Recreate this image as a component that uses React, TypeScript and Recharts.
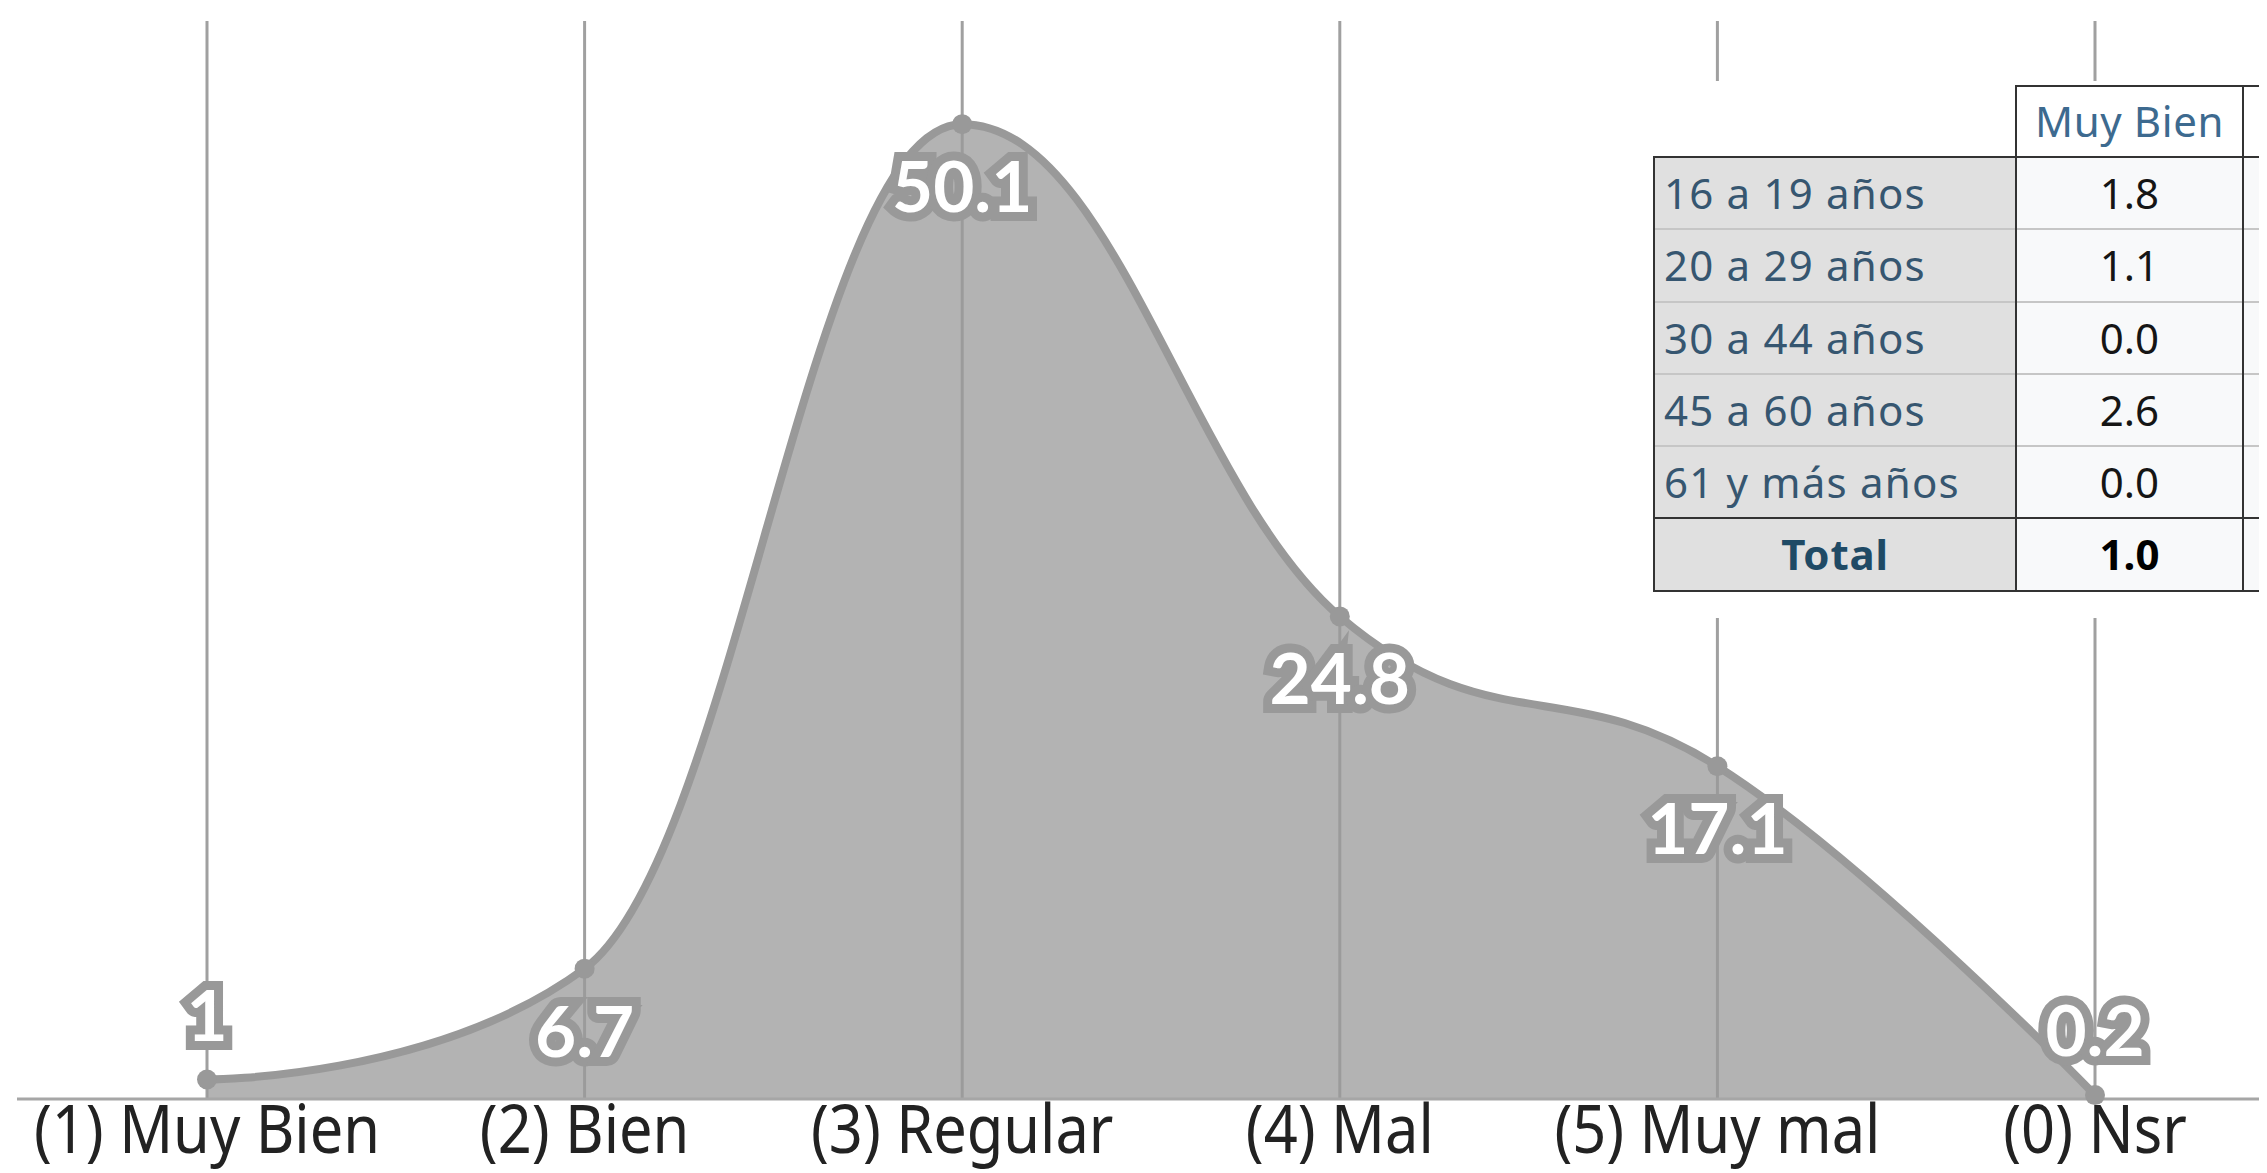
import React from 'react';
import { AreaChart, Area, XAxis, YAxis, CartesianGrid, LabelList } from 'recharts';

// ---------- data ----------
const categories = ['(1) Muy Bien', '(2) Bien', '(3) Regular', '(4) Mal', '(5) Muy mal', '(0) Nsr'];
const percentages = [1, 6.7, 50.1, 24.8, 17.1, 0.2];

const tableHeaders = ['Muy Bien'];
const ageGroups = ['16 a 19 años', '20 a 29 años', '30 a 44 años', '45 a 60 años', '61 y más años'];
const muyBienByAge = [1.8, 1.1, 0.0, 2.6, 0.0];
const totalLabel = 'Total';
const muyBienTotal = 1.0;

const chartData = categories.map((category, i) => ({ category, value: percentages[i] }));

// ---------- layout ----------
const CHART_W = 2277;
const CHART_H = 1165;
const MARGIN = { top: 13, right: 0, bottom: 0, left: 9 };
const X_AXIS_H = 74;
const PLOT_BOTTOM = CHART_H - MARGIN.bottom - X_AXIS_H;
const Y_MAX = 55.4;
const SERIES_COLOR = '#999999';

// ---------- Highcharts-like spline curve ----------
class HCSpline {
  _context: any;
  _line: number;
  _xs: number[];
  _ys: number[];
  constructor(ctx: any) {
    this._context = ctx;
    this._line = NaN;
    this._xs = [];
    this._ys = [];
  }
  areaStart() { this._line = 0; }
  areaEnd() { this._line = NaN; }
  lineStart() { this._xs = []; this._ys = []; }
  point(x: number, y: number) { this._xs.push(+x); this._ys.push(+y); }
  lineEnd() {
    const xs = this._xs, ys = this._ys, n = xs.length, c = this._context;
    if (n > 0) {
      if (this._line) c.lineTo(xs[0], ys[0]); else c.moveTo(xs[0], ys[0]);
      if (n === 2) {
        c.lineTo(xs[1], ys[1]);
      } else if (n > 2) {
        const s = 1.5, d = s + 1;
        const lcx: number[] = [], lcy: number[] = [], rcx: number[] = [], rcy: number[] = [];
        for (let i = 1; i < n - 1; i++) {
          const px = xs[i], py = ys[i], lx = xs[i - 1], ly = ys[i - 1], nx = xs[i + 1], ny = ys[i + 1];
          const lX = (s * px + lx) / d;
          let lY = (s * py + ly) / d;
          const rX = (s * px + nx) / d;
          let rY = (s * py + ny) / d;
          let corr = 0;
          if (rX !== lX) corr = ((rY - lY) * (rX - px)) / (rX - lX) + py - rY;
          lY += corr; rY += corr;
          if (lY > ly && lY > py) { lY = Math.max(ly, py); rY = 2 * py - lY; }
          else if (lY < ly && lY < py) { lY = Math.min(ly, py); rY = 2 * py - lY; }
          if (rY > ny && rY > py) { rY = Math.max(ny, py); lY = 2 * py - rY; }
          else if (rY < ny && rY < py) { rY = Math.min(ny, py); lY = 2 * py - rY; }
          lcx[i] = lX; lcy[i] = lY; rcx[i] = rX; rcy[i] = rY;
        }
        for (let i = 1; i < n; i++) {
          const c1x = i - 1 === 0 ? xs[0] : rcx[i - 1];
          const c1y = i - 1 === 0 ? ys[0] : rcy[i - 1];
          const c2x = i === n - 1 ? xs[n - 1] : lcx[i];
          const c2y = i === n - 1 ? ys[n - 1] : lcy[i];
          c.bezierCurveTo(c1x, c1y, c2x, c2y, xs[i], ys[i]);
        }
      }
    }
    if (this._line || (this._line !== 0 && n === 1)) c.closePath();
    this._line = 1 - this._line;
  }
}
const curveHighcharts = (ctx: any) => new HCSpline(ctx);

// ---------- custom renderers ----------
const CategoryTick = (props: any) => {
  const { x, y, payload } = props;
  return (
    <g transform={`translate(${x},${y + 54}) scale(0.875,1)`}>
      <text x={0} y={0} textAnchor="middle" fontFamily='"Noto Sans", sans-serif' fontSize={68} fill="#222222">
        {payload.value}
      </text>
    </g>
  );
};

const ValueLabel = (props: any) => {
  const { x, y, value } = props;
  if (x == null || y == null) return null;
  let ty = y + 88;
  if (ty + 12 > PLOT_BOTTOM) ty = y - 39;
  return (
    <text
      x={x}
      y={ty}
      textAnchor="middle"
      fontFamily='Lato, "Noto Sans", sans-serif'
      fontWeight={700}
      fontSize={71}
      fill="#ffffff"
      stroke={SERIES_COLOR}
      strokeWidth={18}
      strokeLinejoin="miter"
      strokeMiterlimit={4}
      paintOrder="stroke"
      style={{ paintOrder: 'stroke' }}
    >
      {String(value)}
    </text>
  );
};

// ---------- table ----------
const FONT = '"Noto Sans", sans-serif';
const DARK = '2px solid #333333';
const LIGHT = '2px solid #c6c6c6';

const DataTable = () => {
  const rowH = 70.3;
  const headH = 69;
  return (
    <div
      style={{
        position: 'absolute',
        left: 1632,
        top: 73,
        width: 760,
        height: 537,
        background: '#ffffff',
        paddingLeft: 13,
        paddingTop: 4,
        boxSizing: 'border-box',
      }}
    >
      <table
        style={{
          borderCollapse: 'collapse',
          tableLayout: 'fixed',
          fontFamily: FONT,
          fontSize: 42,
          lineHeight: 1.2,
          width: 709,
        }}
      >
        <colgroup>
          <col style={{ width: 362 }} />
          <col style={{ width: 227 }} />
          <col style={{ width: 120 }} />
        </colgroup>
        <thead>
          <tr>
            <th style={{ height: headH, border: 'none', background: '#ffffff', padding: 0 }}></th>
            {tableHeaders.map((h) => (
              <th
                key={h}
                style={{
                  height: headH,
                  border: DARK,
                  background: '#ffffff',
                  color: '#3d6a8f',
                  fontWeight: 400,
                  padding: 0,
                  textAlign: 'center',
                  letterSpacing: 0.6,
                }}
              >
                {h}
              </th>
            ))}
            <th style={{ height: headH, border: DARK, background: '#ffffff', padding: 0 }}></th>
          </tr>
        </thead>
        <tbody>
          {ageGroups.map((g, i) => {
            const top = i === 0 ? DARK : LIGHT;
            return (
              <tr key={g}>
                <td
                  style={{
                    height: rowH,
                    background: '#e0e0e0',
                    color: '#365670',
                    textAlign: 'left',
                    paddingLeft: 9,
                    paddingTop: 0,
                    paddingBottom: 0,
                    borderLeft: DARK,
                    borderRight: DARK,
                    borderTop: top,
                    whiteSpace: 'nowrap',
                    letterSpacing: 1.2,
                  }}
                >
                  {g}
                </td>
                <td
                  style={{
                    height: rowH,
                    background: '#f8f9fa',
                    color: '#151515',
                    textAlign: 'center',
                    padding: 0,
                    borderRight: DARK,
                    borderTop: top,
                  }}
                >
                  {muyBienByAge[i].toFixed(1)}
                </td>
                <td style={{ height: rowH, background: '#f8f9fa', padding: 0, borderRight: DARK, borderTop: top }}></td>
              </tr>
            );
          })}
          <tr>
            <td
              style={{
                height: rowH,
                background: '#e0e0e0',
                color: '#1f4a65',
                fontWeight: 700,
                textAlign: 'center',
                padding: 0,
                borderLeft: DARK,
                borderRight: DARK,
                borderTop: DARK,
                borderBottom: DARK,
                letterSpacing: 0.8,
              }}
            >
              {totalLabel}
            </td>
            <td
              style={{
                height: rowH,
                background: '#f8f9fa',
                color: '#000000',
                fontWeight: 700,
                textAlign: 'center',
                padding: 0,
                borderRight: DARK,
                borderTop: DARK,
                borderBottom: DARK,
              }}
            >
              {muyBienTotal.toFixed(1)}
            </td>
            <td style={{ height: rowH, background: '#f8f9fa', padding: 0, borderRight: DARK, borderTop: DARK, borderBottom: DARK }}></td>
          </tr>
        </tbody>
      </table>
    </div>
  );
};

// ---------- app ----------
export default function App() {
  return (
    <div style={{ position: 'relative', width: 2258, height: CHART_H, overflow: 'hidden', background: '#ffffff' }}>
      <AreaChart width={CHART_W} height={CHART_H} data={chartData} margin={MARGIN}>
        <CartesianGrid horizontal={false} vertical={true} syncWithTicks stroke="#a0a0a0" strokeWidth={3} />
        <XAxis
          dataKey="category"
          padding={{ left: 190, right: 190 }}
          interval={0}
          tickLine={false}
          tickSize={0}
          tickMargin={0}
          height={X_AXIS_H}
          axisLine={{ stroke: '#a6a6a6', strokeWidth: 3 }}
          tick={<CategoryTick />}
        />
        <YAxis hide domain={[0, Y_MAX]} />
        <Area
          type={curveHighcharts as any}
          dataKey="value"
          stroke={SERIES_COLOR}
          strokeWidth={8}
          fill={SERIES_COLOR}
          fillOpacity={0.75}
          dot={{ r: 10, fill: SERIES_COLOR, stroke: SERIES_COLOR, strokeWidth: 0, fillOpacity: 1 }}
          activeDot={false}
          isAnimationActive={false}
        >
          <LabelList dataKey="value" content={(p: any) => <ValueLabel {...p} />} />
        </Area>
      </AreaChart>
      <DataTable />
    </div>
  );
}
